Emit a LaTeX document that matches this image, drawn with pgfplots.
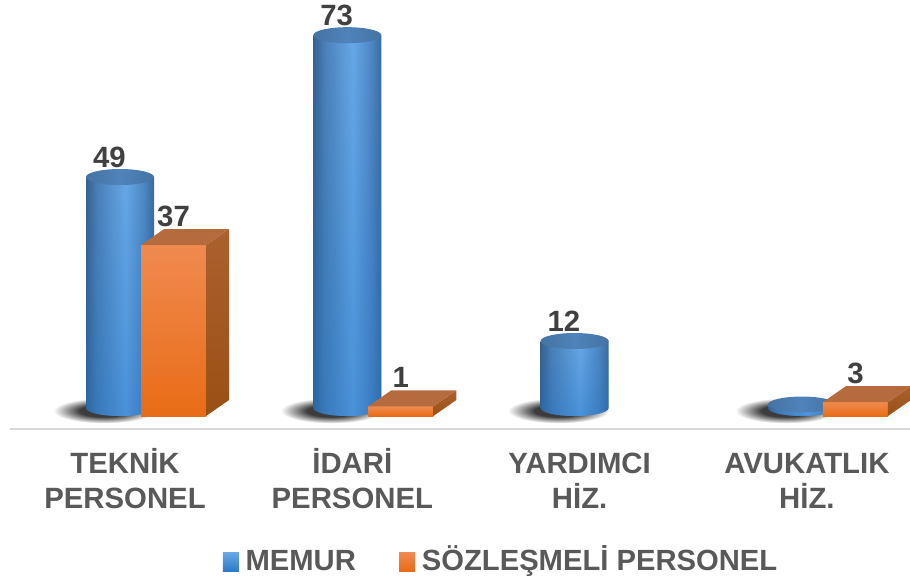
\documentclass[border=0pt]{standalone}
\usepackage{fontspec}
\setmainfont{Liberation Sans}
\usepackage{pgfplots}
\usepackage{pgfplotstable}
\pgfplotsset{compat=1.18}
\usetikzlibrary{fadings}

\definecolor{tickgray}{HTML}{595959}
\definecolor{labelgray}{HTML}{404040}
\definecolor{axisgray}{HTML}{D9D9D9}
\definecolor{cylL}{HTML}{37618F}
\definecolor{cylL2}{HTML}{4A80B8}
\definecolor{cylM}{HTML}{68A8E8}
\definecolor{cylR2}{HTML}{4C86C2}
\definecolor{cylR}{HTML}{3A6A9C}
\definecolor{cylTop}{HTML}{4F83BA}
\definecolor{cylDark}{HTML}{1F6FC0}
\definecolor{shd}{HTML}{3C3C3C}
\definecolor{boxT}{HTML}{F08A50}
\definecolor{boxM}{HTML}{F97B26}
\definecolor{boxB}{HTML}{E86C16}
\definecolor{boxLid}{HTML}{B56B3D}
\definecolor{boxSideT}{HTML}{A9622F}
\definecolor{boxSideB}{HTML}{9A4F14}

\pgfdeclarehorizontalshading{cylshade}{100bp}{color(0bp)=(cylL); color(25bp)=(cylL);
  color(33bp)=(cylL2); color(54bp)=(cylM); color(68bp)=(cylR2); color(75bp)=(cylR); color(100bp)=(cylR)}
\pgfdeclareradialshading{softshadow}{\pgfpoint{0bp}{0bp}}{color(0bp)=(shd); color(12bp)=(shd);
  color(25bp)=(white); color(50bp)=(white)}

% heights are as drawn, in units of the orange series (1 unit = 4.62 px)
% drawn cylinders do not scale with their labels in the source chart
\pgfplotstableread{
x h lab
0 50.0 49
1 80.7 73
2 14.5 12
3 0.75 {}
}\memurdata
\pgfplotstableread{
x h lab
0 37 37
1 2.1 1
3 3 3
}\sozdata

\newcommand{\tst}{\rule{0pt}{20pt}}

\begin{document}
\begin{tikzpicture}
\useasboundingbox (0,0) rectangle (682.5pt,435.75pt);
\begin{axis}[
    at={(7.5pt,114pt)}, anchor=south west,
    scale only axis,
    x=170.475pt, y=3.465pt,
    xmin=-0.506, xmax=3.4535,
    ymin=-2.81, ymax=90,
    clip=false,
    axis x line=bottom,
    axis y line=none,
    axis line style={-, draw=axisgray, line width=2pt},
    xtick={0,1,2,3},
    xticklabels={\tst TEKNİK\\PERSONEL, \tst İDARİ\\PERSONEL, \tst YARDIMCI\\HİZ., \tst AVUKATLIK\\HİZ.},
    major tick length=0pt,
    tick style={draw=none},
    xticklabel style={align=center, font=\fontsize{22}{26.25}\selectfont\bfseries,
        text=tickgray, yshift=-9.5pt},
    legend style={at={(0.546,-0.3118)}, anchor=center, draw=none, fill=none,
        legend columns=2, font=\fontsize{21.9}{26}\selectfont\bfseries, text=tickgray,
        nodes={text height=17pt, text depth=6pt},
        /tikz/every odd column/.append style={column sep=3pt},
        /tikz/every even column/.append style={column sep=30.5pt}},
]
% cylinders: shadow, body and lid hung from the top of each bar
\addplot[scatter, only marks, mark=*, mark size=0pt, xshift=-3.75pt, yshift=6pt,
    visualization depends on={\thisrow{h} \as \barval},
    scatter/@pre marker code/.code={%
      \pgfmathsetlengthmacro{\barlen}{\barval*3.465pt}%
      \path[draw=none, shade, shading=softshadow]
        (-12pt,-\barlen-2pt) ellipse [x radius=38pt, y radius=9.5pt];
      \path[draw=none, shade, shading=cylshade]
        (-25.5pt,0pt) -- (25.5pt,0pt) -- (25.5pt,-\barlen)
        arc [start angle=0, end angle=-180, x radius=25.5pt, y radius=6pt] -- cycle;
      \path[draw=none, fill=cylDark, fill opacity=0.4, path fading=north]
        (-25.5pt,0pt) -- (25.5pt,0pt) -- (25.5pt,-\barlen)
        arc [start angle=0, end angle=-180, x radius=25.5pt, y radius=6pt] -- cycle;
      \path[draw=none, left color=cylTop!88!black, right color=cylTop!88!black, middle color=cylTop]
        (0pt,0pt) ellipse [x radius=25.5pt, y radius=6pt];
      \begingroup},
    scatter/@post marker code/.code={\endgroup},
    legend image code/.code={\path[draw=none, top color=cylM, bottom color=cylDark!80!cylM]
        (0pt,-12.25pt) rectangle (12pt,1.75pt);}]
    table[x=x, y=h] {\memurdata};
\addlegendentry{MEMUR}

% boxes: front, side and lid hung from the top of each bar
\addplot[scatter, only marks, mark=*, mark size=0pt, xshift=36.375pt,
    visualization depends on={\thisrow{h} \as \barval},
    scatter/@pre marker code/.code={%
      \pgfmathsetlengthmacro{\barlen}{\barval*3.465pt}%
      \path[draw=none, top color=boxT, middle color=boxM, bottom color=boxB]
        (-24.375pt,0pt) rectangle (24.375pt,-\barlen);
      \path[draw=none, top color=boxSideT, bottom color=boxSideB]
        (24.375pt,0pt) -- (41.625pt,12pt) -- ++(0pt,-\barlen)
        -- (24.375pt,-\barlen) -- cycle;
      \path[draw=none, fill=boxLid]
        (-24.375pt,0pt) -- (24.375pt,0pt) -- (41.625pt,12pt) -- (-7.125pt,12pt) -- cycle;
      \begingroup},
    scatter/@post marker code/.code={\endgroup},
    legend image code/.code={\path[draw=none, top color=boxT, bottom color=boxB]
        (0pt,-6.25pt) rectangle (12pt,7.75pt);}]
    table[x=x, y=h] {\sozdata};
\addlegendentry{SÖZLEŞMELİ PERSONEL}

% value labels
\addplot[forget plot, only marks, mark=none, xshift=-3.75pt, yshift=6pt,
    point meta=explicit symbolic,
    nodes near coords,
    nodes near coords style={anchor=center, xshift=-8pt, yshift=15pt,
        font=\fontsize{22}{26}\selectfont\bfseries, text=labelgray}]
    table[x=x, y=h, meta=lab] {\memurdata};
\addplot[forget plot, only marks, mark=none, xshift=36.375pt,
    point meta=explicit symbolic,
    nodes near coords,
    nodes near coords style={anchor=center, yshift=21.5pt,
        font=\fontsize{22}{26}\selectfont\bfseries, text=labelgray}]
    table[x=x, y=h, meta=lab] {\sozdata};
\end{axis}
\end{tikzpicture}
\end{document}
